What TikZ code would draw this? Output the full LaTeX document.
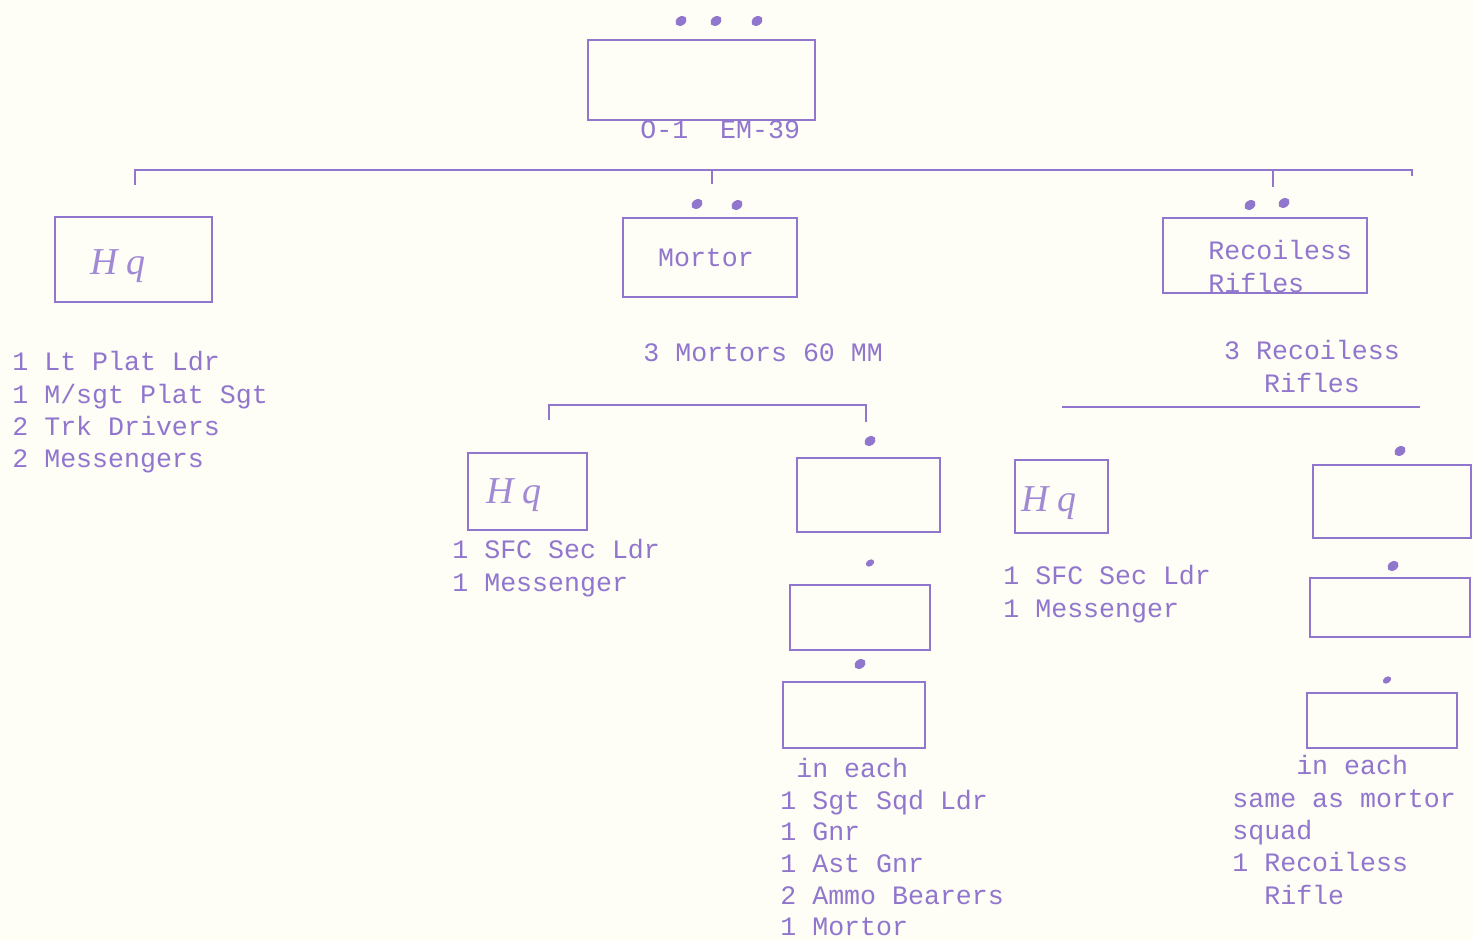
\documentclass[tikz,border=0pt]{standalone}
\usepackage{fontspec}
\setmonofont{Liberation Mono}
\newfontfamily\handfont{Liberation Serif}
\definecolor{ink}{RGB}{145,118,205}
\definecolor{paper}{RGB}{254,253,246}
\begin{document}
\begin{tikzpicture}[x=0.5pt,y=-0.5pt,
  orgbox/.style={draw=ink, line width=0.9pt, inner sep=0pt, rectangle},
  tw/.style={text=ink, font=\ttfamily\fontsize{13.3}{16.2}\selectfont, inner sep=0pt, align=left},
  twtight/.style={text=ink, font=\ttfamily\fontsize{13.3}{15.8}\selectfont, inner sep=0pt, align=left},
  hand/.style={text=ink!85, font=\handfont\itshape\fontsize{19}{20}\selectfont, inner sep=0pt},
  ln/.style={draw=ink, line width=0.9pt},
  rankdot/.style={fill=ink}]
\fill[paper] (0,0) rectangle (1473,941);
\useasboundingbox (0,0) rectangle (1473,941);

% ---------- boxes ----------
\node[orgbox, minimum width=113.5pt, minimum height=40pt] (top) at (701.5,80) {};
\node[orgbox, minimum width=78.5pt, minimum height=42.5pt] (hq1) at (133.5,259.5) {};
\node[orgbox, minimum width=87pt, minimum height=39.5pt] (mort) at (710,257.5) {};
\node[orgbox, minimum width=102pt, minimum height=37.5pt] (rr) at (1265,255.5) {};
\node[orgbox, minimum width=59.5pt, minimum height=38.5pt] (hq2) at (527.5,491.5) {};
\node[orgbox, minimum width=71.5pt, minimum height=37pt] (m1) at (868.5,495) {};
\node[orgbox, minimum width=70pt, minimum height=32.5pt] (m2) at (860,617.5) {};
\node[orgbox, minimum width=71pt, minimum height=33pt] (m3) at (854,715) {};
\node[orgbox, minimum width=46.5pt, minimum height=36.5pt] (hq3) at (1061.5,496.5) {};
\node[orgbox, minimum width=79pt, minimum height=36.5pt] (r1) at (1392,501.5) {};
\node[orgbox, minimum width=80pt, minimum height=29.5pt] (r2) at (1390,607.5) {};
\node[orgbox, minimum width=75pt, minimum height=27.5pt] (r3) at (1382,720.5) {};

% ---------- rank dots ----------
\foreach \px/\py in {681/21,716/21,757/21,697/204,737/205,1250/205,1284/203,870/441,1400/451,1393/566,860/664}
  \fill[rankdot, rotate around={35:(\px,\py)}] (\px,\py) ellipse (6 and 4.5);
\foreach \px/\py in {870/563,1387/680}
  \fill[rankdot, rotate around={35:(\px,\py)}] (\px,\py) ellipse (4.5 and 3.2);

% ---------- connectors ----------
\coordinate (bL) at (135,170);
\coordinate (bM) at (712,170);
\coordinate (bR) at (1273,170);
\coordinate (bE) at (1412,170);
\coordinate (tL) at (135,185);
\coordinate (tM) at (712,184);
\coordinate (tR) at (1273,187);
\coordinate (tE) at (1412,176);
\draw[ln] (tL) -- (bL) -- (bE) -- (tE);
\draw[ln] (bM) -- (tM);
\draw[ln] (bR) -- (tR);

\coordinate (sL) at (549,405);
\coordinate (sR) at (866,405);
\coordinate (sLd) at (549,420);
\coordinate (sRd) at (866,422);
\draw[ln] (sLd) -- (sL) -- (sR) -- (sRd);

\coordinate (rL) at (1062,407);
\coordinate (rR) at (1420,407);
\draw[ln] (rL) -- (rR);

% ---------- texts ----------
\node[tw, anchor=west] (toplbl) at (640,130) {O-1\ \ EM-39};
\node[hand] (hq1t) at (118,266) {H q};
\node[tw] (mortt) at (706,258) {Mortor};
\node[tw, anchor=north west] (rrt) at (1208,240) {Recoiless\\Rifles};
\node[hand] (hq2t) at (514,495) {H q};
\node[hand] (hq3t) at (1049,503) {H q};

\node[tw, anchor=north west] (hq1l) at (12,351) {1 Lt Plat Ldr\\1 M/sgt Plat Sgt\\2 Trk Drivers\\2 Messengers};
\node[tw, anchor=west] (mortl) at (643,353) {3 Mortors 60 MM};
\node[tw, anchor=north, align=center] (rrl) at (1312,340) {3 Recoiless\\Rifles};
\node[tw, anchor=north west] (hq2l) at (452,539) {1 SFC Sec Ldr\\1 Messenger};
\node[tw, anchor=north west] (hq3l) at (1003,565) {1 SFC Sec Ldr\\1 Messenger};
\node[twtight, anchor=north west] (ml) at (780,758) {\ in each\\1 Sgt Sqd Ldr\\1 Gnr\\1 Ast Gnr\\2 Ammo Bearers\\1 Mortor};
\node[tw, anchor=north west] (rl) at (1232,755) {\ \ \ \ in each\\same as mortor\\squad\\1 Recoiless\\\ \ Rifle};
\end{tikzpicture}
\end{document}
